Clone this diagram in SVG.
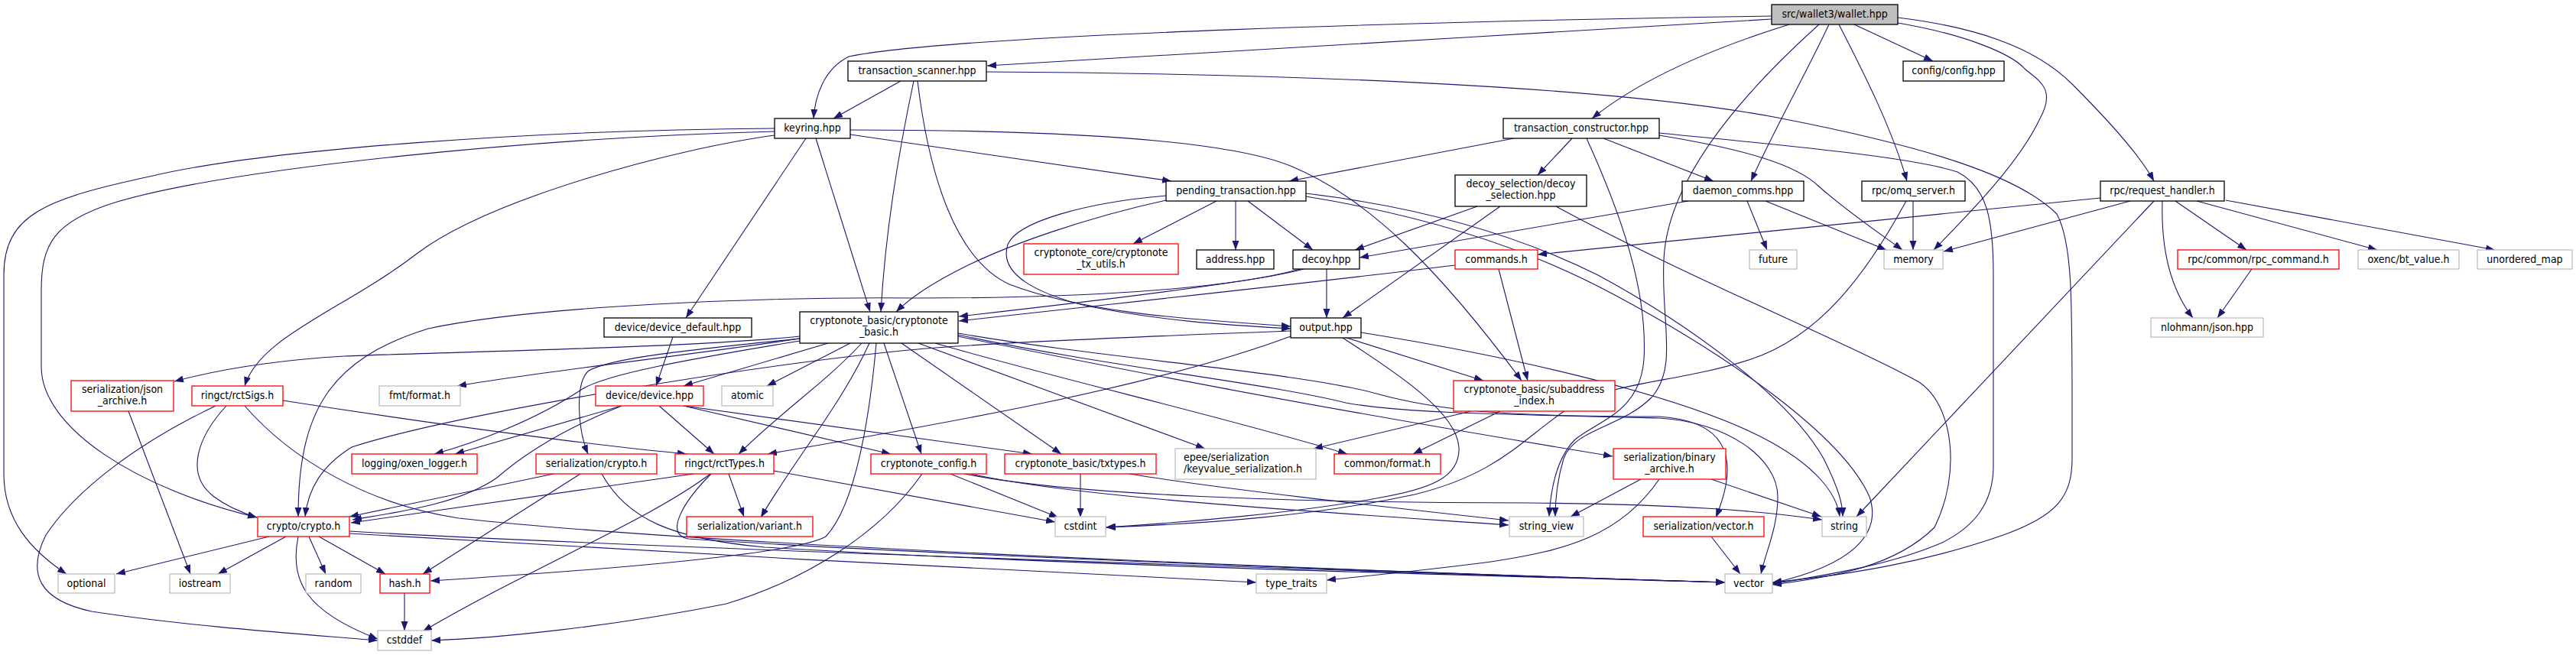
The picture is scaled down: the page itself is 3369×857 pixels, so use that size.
<svg xmlns="http://www.w3.org/2000/svg" width="3369" height="857" viewBox="0 0 3369 857">
<defs>
<style>
.e path{fill:none;stroke:#191970;stroke-width:1.1;marker-end:url(#a)}
text{font-family:"DejaVu Sans Condensed","DejaVu Sans",sans-serif;font-stretch:condensed;font-size:14px;text-anchor:middle;fill:#000}
rect{fill:#fff;stroke-width:1.3}
.b rect{stroke:#000}
.r rect{stroke:#ff0000}
.g rect{stroke:#bfbfbf}
.w rect{fill:#bfbfbf;stroke:#000}
</style>
<marker id="a" markerUnits="userSpaceOnUse" markerWidth="13" markerHeight="10" refX="12" refY="4.5" orient="auto"><path d="M0,0 L12,4.5 L0,9 z" fill="#191970"/></marker>
</defs>
<rect x="0" y="0" width="3369" height="857" style="fill:#fff;stroke:none"/>
<g id="edges" class="e">
<path d="M2317,25 C1980,45 1600,68 1291,86"/>
<path d="M2317,21 C1900,27 1250,45 1110,74 C1078,90 1066,125 1064,155"/>
<path d="M2340,32 C2250,60 2150,100 2082,155"/>
<path d="M2392,32 C2360,100 2320,170 2290,237"/>
<path d="M2405,32 C2440,100 2475,170 2494,237"/>
<path d="M2425,32 L2528,80"/>
<path d="M2482,23 C2580,35 2660,60 2710,110 C2760,160 2800,205 2817,237"/>
<path d="M2482,30 C2570,45 2630,70 2648,90 C2665,105 2690,115 2668,155 C2640,215 2570,285 2529,327"/>
<path d="M2379,32 C2270,130 2180,240 2176,340 C2172,420 2195,480 2160,520 C2120,560 2060,560 2045,600 C2036,630 2034,660 2034,676"/>
<path d="M1178,106 L1090,155"/>
<path d="M1195,106 C1175,200 1158,300 1152,408"/>
<path d="M1200,106 C1215,230 1250,340 1320,372 C1420,410 1560,418 1688,427"/>
<path d="M1290,94 C1650,96 2100,110 2330,155 C2520,192 2640,230 2690,280 C2712,320 2710,400 2710,600 C2710,650 2690,675 2620,700 C2520,735 2420,752 2318,762"/>
<path d="M1112,176 L1532,237"/>
<path d="M1112,170 C1350,170 1600,180 1690,218 C1790,260 1880,350 1990,498"/>
<path d="M1054,181 L897,416"/>
<path d="M1067,181 L1138,408"/>
<path d="M1013,177 C880,195 640,260 545,332 C450,405 340,440 320,505"/>
<path d="M1013,172 C700,180 300,220 150,265 C70,290 54,320 54,380 L54,480 C54,560 180,640 336,677"/>
<path d="M1013,168 C700,170 350,195 200,230 C60,260 5,280 5,360 L5,620 C5,680 40,720 87,751"/>
<path d="M1980,181 L1686,237"/>
<path d="M2056,181 L2011,229"/>
<path d="M2097,181 L2241,237"/>
<path d="M2170,177 C2280,195 2350,215 2380,245 C2420,280 2465,310 2488,327"/>
<path d="M2075,181 C2120,280 2155,380 2150,470 C2145,540 2090,550 2060,575 C2035,600 2028,640 2026,676"/>
<path d="M2170,174 C2330,190 2500,205 2560,225 C2600,245 2607,290 2607,360 L2607,610 C2607,660 2580,690 2540,710 C2470,740 2390,752 2318,764"/>
<path d="M1591,263 L1482,319"/>
<path d="M1616,263 L1616,327"/>
<path d="M1632,263 L1717,327"/>
<path d="M1525,256 C1420,265 1330,290 1318,320 C1305,360 1360,385 1420,400 C1520,420 1600,425 1688,430"/>
<path d="M1525,262 C1420,285 1320,320 1260,350 C1220,370 1190,390 1172,408"/>
<path d="M1708,253 C1850,270 1980,305 2090,360 C2210,425 2340,520 2385,600 C2405,640 2410,660 2410,676"/>
<path d="M1708,257 C1850,280 1990,320 2110,385 C2260,465 2410,570 2445,650 C2462,700 2420,740 2318,763"/>
<path d="M1932,270 L1772,327"/>
<path d="M1962,270 L1756,416"/>
<path d="M2035,270 C2200,360 2420,450 2510,500 C2555,530 2565,620 2530,690 C2480,740 2400,755 2318,765"/>
<path d="M2208,263 L1778,337"/>
<path d="M2285,263 L2311,327"/>
<path d="M2309,263 L2467,327"/>
<path d="M2502,263 L2502,327"/>
<path d="M2493,263 C2440,360 2380,440 2290,470 C2200,500 2100,500 2050,535 C1990,575 1960,620 1850,647 C1720,675 1580,685 1447,690"/>
<path d="M2747,259 L2011,333"/>
<path d="M2786,263 L2542,329"/>
<path d="M2817,263 L2428,676"/>
<path d="M2845,263 L2938,327"/>
<path d="M2873,263 L3109,327"/>
<path d="M2911,262 L3263,327"/>
<path d="M2828,263 C2826,330 2840,380 2868,416"/>
<path d="M2945,352 L2900,416"/>
<path d="M1735,352 L1735,416"/>
<path d="M1705,352 C1650,368 1450,392 1254,414"/>
<path d="M1700,352 C1600,380 1400,390 1200,390 C1000,388 700,400 560,430 C430,470 390,540 390,676"/>
<path d="M1960,352 L1998,498"/>
<path d="M1903,347 C1700,372 1450,398 1254,420"/>
<path d="M880,441 L858,505"/>
<path d="M1046,440 C900,455 600,460 450,466 C350,472 280,485 228,499"/>
<path d="M1046,443 C900,465 700,487 598,505"/>
<path d="M1046,446 C900,470 790,490 760,510 C700,550 620,580 568,594"/>
<path d="M1046,443 C900,458 800,468 770,485 C752,500 755,560 769,594"/>
<path d="M1083,449 L894,505"/>
<path d="M1112,449 L1003,505"/>
<path d="M1127,449 C1080,500 1020,540 966,594"/>
<path d="M1137,449 C1100,530 1040,600 995,677"/>
<path d="M1146,449 C1138,540 1120,660 1080,702 C1040,725 800,745 563,760"/>
<path d="M1156,449 L1205,594"/>
<path d="M1179,449 L1388,594"/>
<path d="M1201,449 L1576,587"/>
<path d="M1223,449 C1400,500 1600,545 1762,594"/>
<path d="M1253,440 C1450,480 1700,530 2109,597"/>
<path d="M1253,436 C1450,470 1700,487 1800,515 C1880,537 1960,545 2170,545 C2250,550 2280,590 2244,677"/>
<path d="M1253,438 C1450,480 1650,500 1760,527 C1830,540 1950,542 2170,547 C2260,552 2325,600 2325,650 C2325,690 2310,720 2303,751"/>
<path d="M1761,442 L1940,498"/>
<path d="M1688,440 C1500,510 1200,560 1004,594"/>
<path d="M1756,442 C1830,490 1905,540 1908,585 C1910,625 1870,640 1800,652 C1700,670 1560,683 1446,690"/>
<path d="M1780,435 C2000,470 2200,520 2300,570 C2380,610 2403,650 2406,676"/>
<path d="M1688,433 C1500,440 1300,448 1200,457 C1000,475 600,540 460,585 C420,610 403,640 399,676"/>
<path d="M370,524 C600,560 800,585 898,594"/>
<path d="M296,531 C260,570 240,620 280,650 C300,665 320,672 336,677"/>
<path d="M282,531 C180,580 100,640 60,700 C35,750 50,785 120,800 C250,820 400,830 494,838"/>
<path d="M320,531 C380,600 480,660 600,678 C900,712 1700,745 2256,762"/>
<path d="M352,702 L152,751"/>
<path d="M374,702 L285,751"/>
<path d="M404,702 L426,751"/>
<path d="M417,702 L504,751"/>
<path d="M390,702 C378,760 400,800 494,836"/>
<path d="M457,698 C800,720 1300,745 1643,762"/>
<path d="M457,695 C800,715 1700,745 2256,762"/>
<path d="M529,776 L529,825"/>
<path d="M168,538 L249,751"/>
<path d="M813,531 L595,594"/>
<path d="M813,531 C740,560 690,590 650,625 C600,660 520,670 461,680"/>
<path d="M862,531 L934,594"/>
<path d="M894,531 L1165,594"/>
<path d="M894,531 L1350,594"/>
<path d="M724,620 L457,676"/>
<path d="M759,620 L553,751"/>
<path d="M787,620 C820,680 880,705 1000,716 C1400,740 1900,752 2256,762"/>
<path d="M953,620 L973,676"/>
<path d="M1012,616 L1380,683"/>
<path d="M907,620 L459,684"/>
<path d="M929,620 C850,680 700,740 553,826"/>
<path d="M930,620 C890,660 870,700 900,705 C1200,725 1800,748 2256,762"/>
<path d="M1243,620 L1384,677"/>
<path d="M1206,620 C1150,700 1050,760 950,790 C800,820 650,835 564,838"/>
<path d="M1270,620 C1400,650 1700,668 1973,687"/>
<path d="M1262,620 C1400,648 1700,658 2000,658 C2200,660 2300,668 2383,680"/>
<path d="M1413,620 L1413,677"/>
<path d="M1477,620 C1600,640 1800,662 1973,681"/>
<path d="M1924,538 L1718,587"/>
<path d="M1962,538 L1848,594"/>
<path d="M2146,627 L2054,676"/>
<path d="M2238,627 L2382,676"/>
<path d="M2170,627 C2120,700 2050,720 1950,735 C1850,748 1780,754 1735,759"/>
<path d="M2238,702 L2276,751"/>
</g>
<g id="n-wallet" class="w"><rect x="2317" y="6" width="165" height="26"/><text x="2399.5" y="23">src/wallet3/wallet.hpp</text></g>
<g id="n-transaction_scanner" class="b"><rect x="1109" y="80" width="181" height="26"/><text x="1199.5" y="97">transaction_scanner.hpp</text></g>
<g id="n-config" class="b"><rect x="2489" y="80" width="132" height="26"/><text x="2555" y="97">config/config.hpp</text></g>
<g id="n-keyring" class="b"><rect x="1013" y="155" width="99" height="26"/><text x="1062.5" y="172">keyring.hpp</text></g>
<g id="n-transaction_constructor" class="b"><rect x="1966" y="155" width="204" height="26"/><text x="2068" y="172">transaction_constructor.hpp</text></g>
<g id="n-pending_transaction" class="b"><rect x="1525" y="237" width="183" height="26"/><text x="1616.5" y="254">pending_transaction.hpp</text></g>
<g id="n-decoy_selection" class="b"><rect x="1903" y="229" width="172" height="41"/><text x="1989" y="245">decoy_selection/decoy</text><text x="1989" y="260">_selection.hpp</text></g>
<g id="n-daemon_comms" class="b"><rect x="2200" y="237" width="159" height="26"/><text x="2279.5" y="254">daemon_comms.hpp</text></g>
<g id="n-omq_server" class="b"><rect x="2435" y="237" width="135" height="26"/><text x="2502.5" y="254">rpc/omq_server.h</text></g>
<g id="n-request_handler" class="b"><rect x="2747" y="237" width="162" height="26"/><text x="2828" y="254">rpc/request_handler.h</text></g>
<g id="n-tx_utils" class="r"><rect x="1339" y="319" width="202" height="40"/><text x="1440" y="335">cryptonote_core/cryptonote</text><text x="1440" y="350">_tx_utils.h</text></g>
<g id="n-address" class="b"><rect x="1565" y="327" width="101" height="25"/><text x="1615.5" y="344">address.hpp</text></g>
<g id="n-decoy" class="b"><rect x="1691" y="327" width="87" height="25"/><text x="1734.5" y="344">decoy.hpp</text></g>
<g id="n-commands" class="r"><rect x="1903" y="327" width="108" height="25"/><text x="1957" y="344">commands.h</text></g>
<g id="n-future" class="g"><rect x="2288" y="327" width="62" height="25"/><text x="2319" y="344">future</text></g>
<g id="n-memory" class="g"><rect x="2464" y="327" width="77" height="25"/><text x="2502.5" y="344">memory</text></g>
<g id="n-rpc_command" class="r"><rect x="2848" y="327" width="211" height="25"/><text x="2953.5" y="344">rpc/common/rpc_command.h</text></g>
<g id="n-bt_value" class="g"><rect x="3084" y="327" width="132" height="25"/><text x="3150" y="344">oxenc/bt_value.h</text></g>
<g id="n-unordered_map" class="g"><rect x="3240" y="327" width="124" height="25"/><text x="3302" y="344">unordered_map</text></g>
<g id="n-json" class="g"><rect x="2813" y="416" width="147" height="25"/><text x="2886.5" y="433">nlohmann/json.hpp</text></g>
<g id="n-device_default" class="b"><rect x="790" y="416" width="193" height="25"/><text x="886.5" y="433">device/device_default.hpp</text></g>
<g id="n-cryptonote_basic" class="b"><rect x="1046" y="408" width="207" height="41"/><text x="1149.5" y="424">cryptonote_basic/cryptonote</text><text x="1149.5" y="439">_basic.h</text></g>
<g id="n-output" class="b"><rect x="1688" y="416" width="92" height="26"/><text x="1734" y="433">output.hpp</text></g>
<g id="n-json_archive" class="r"><rect x="93" y="498" width="134" height="40"/><text x="160" y="514">serialization/json</text><text x="160" y="529">_archive.h</text></g>
<g id="n-rctSigs" class="r"><rect x="251" y="505" width="119" height="26"/><text x="310.5" y="522">ringct/rctSigs.h</text></g>
<g id="n-fmt" class="g"><rect x="496" y="505" width="106" height="26"/><text x="549" y="522">fmt/format.h</text></g>
<g id="n-device" class="r"><rect x="779" y="505" width="141" height="26"/><text x="849.5" y="522">device/device.hpp</text></g>
<g id="n-atomic" class="g"><rect x="944" y="505" width="67" height="26"/><text x="977.5" y="522">atomic</text></g>
<g id="n-subaddress_index" class="r"><rect x="1901" y="498" width="211" height="40"/><text x="2006.5" y="514">cryptonote_basic/subaddress</text><text x="2006.5" y="529">_index.h</text></g>
<g id="n-oxen_logger" class="r"><rect x="460" y="594" width="164" height="26"/><text x="542" y="611">logging/oxen_logger.h</text></g>
<g id="n-ser_crypto" class="r"><rect x="701" y="594" width="158" height="26"/><text x="780" y="611">serialization/crypto.h</text></g>
<g id="n-rctTypes" class="r"><rect x="883" y="594" width="129" height="26"/><text x="947.5" y="611">ringct/rctTypes.h</text></g>
<g id="n-cryptonote_config" class="r"><rect x="1139" y="594" width="151" height="26"/><text x="1214.5" y="611">cryptonote_config.h</text></g>
<g id="n-txtypes" class="r"><rect x="1314" y="594" width="198" height="26"/><text x="1413" y="611">cryptonote_basic/txtypes.h</text></g>
<g id="n-epee" class="g"><rect x="1537" y="587" width="184" height="40"/><text x="1548" y="603" style="text-anchor:start">epee/serialization</text><text x="1548" y="618" style="text-anchor:start">/keyvalue_serialization.h</text></g>
<g id="n-common_format" class="r"><rect x="1745" y="594" width="139" height="26"/><text x="1814.5" y="611">common/format.h</text></g>
<g id="n-binary_archive" class="r"><rect x="2110" y="587" width="147" height="40"/><text x="2183.5" y="603">serialization/binary</text><text x="2183.5" y="618">_archive.h</text></g>
<g id="n-crypto" class="r"><rect x="337" y="676" width="120" height="26"/><text x="397" y="693">crypto/crypto.h</text></g>
<g id="n-variant" class="r"><rect x="898" y="676" width="165" height="26"/><text x="980.5" y="693">serialization/variant.h</text></g>
<g id="n-cstdint" class="g"><rect x="1380" y="676" width="66" height="26"/><text x="1413" y="693">cstdint</text></g>
<g id="n-string_view" class="g"><rect x="1974" y="676" width="97" height="26"/><text x="2022.5" y="693">string_view</text></g>
<g id="n-ser_vector" class="r"><rect x="2149" y="676" width="158" height="26"/><text x="2228" y="693">serialization/vector.h</text></g>
<g id="n-string" class="g"><rect x="2383" y="676" width="58" height="26"/><text x="2412" y="693">string</text></g>
<g id="n-optional" class="g"><rect x="76" y="751" width="74" height="25"/><text x="113" y="768">optional</text></g>
<g id="n-iostream" class="g"><rect x="222" y="751" width="79" height="25"/><text x="261.5" y="768">iostream</text></g>
<g id="n-random" class="g"><rect x="400" y="751" width="72" height="25"/><text x="436" y="768">random</text></g>
<g id="n-hash" class="r"><rect x="497" y="751" width="65" height="25"/><text x="529.5" y="768">hash.h</text></g>
<g id="n-type_traits" class="g"><rect x="1643" y="751" width="92" height="25"/><text x="1689" y="768">type_traits</text></g>
<g id="n-vector" class="g"><rect x="2256" y="751" width="62" height="25"/><text x="2287" y="768">vector</text></g>
<g id="n-cstddef" class="g"><rect x="494" y="825" width="70" height="26"/><text x="529" y="842">cstddef</text></g>
</svg>
